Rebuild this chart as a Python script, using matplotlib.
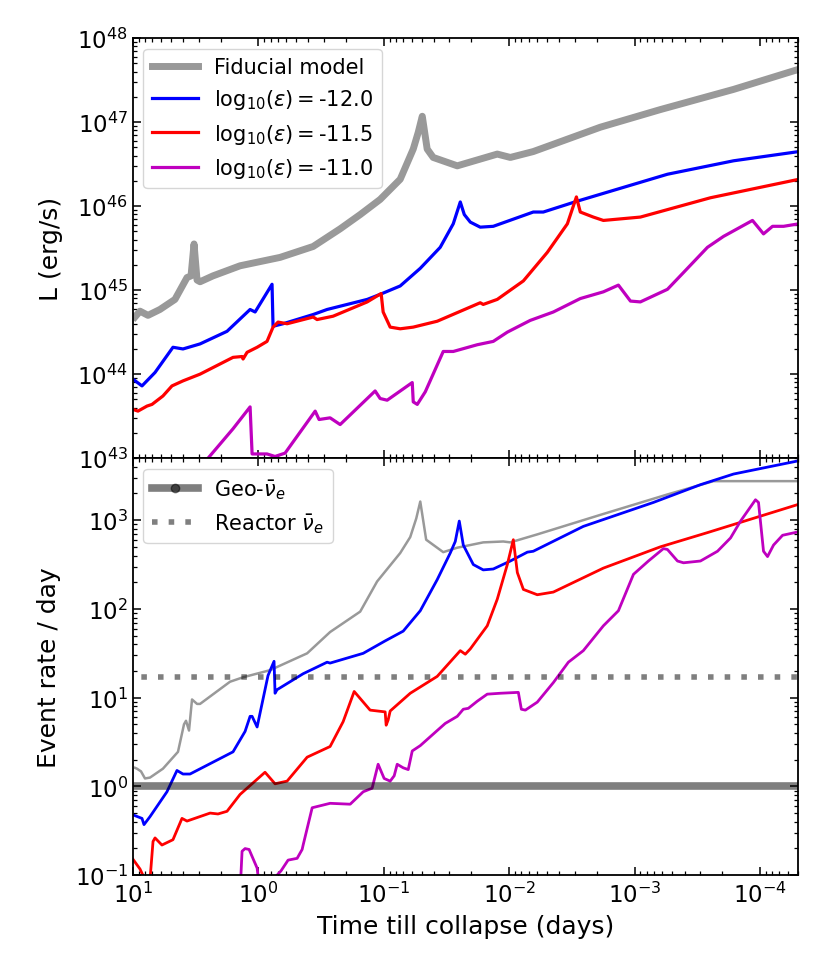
import numpy as np
import matplotlib
matplotlib.use('Agg')
import matplotlib.pyplot as plt

# log10(days till collapse) / log10(L [erg/s])
fid_lt = [0.984, 0.944, 0.880, 0.785, 0.665, 0.569, 0.537, 0.513, 0.489, 0.465,
          0.362, 0.146, -0.173, -0.437, -0.652, -0.812, -0.971, -1.131, -1.235, -1.275,
          -1.307, -1.346, -1.394, -1.586, -1.905, -2.009, -2.192, -2.727, -3.206, -3.789, -4.31]
fid_lL = [44.68, 44.75, 44.70, 44.77, 44.89, 45.15, 45.17, 45.55, 45.12, 45.10,
          45.17, 45.29, 45.39, 45.52, 45.73, 45.90, 46.08, 46.32, 46.68, 46.88,
          47.07, 46.68, 46.58, 46.48, 46.62, 46.58, 46.65, 46.94, 47.15, 47.39, 47.63]

e120_lt = [1.0, 0.928, 0.824, 0.681, 0.601, 0.465, 0.250, 0.066, 0.026, -0.109,
           -0.117, -0.197, -0.437, -0.548, -0.868, -0.971, -1.131, -1.291, -1.450, -1.554, -1.610,
           -1.642, -1.690, -1.769, -1.873, -2.192, -2.272, -2.544, -3.262, -3.789, -4.31]
e120_lL = [43.94, 43.86, 44.02, 44.32, 44.30, 44.36, 44.51, 44.77, 44.74, 45.07,
           44.57, 44.60, 44.71, 44.77, 44.89, 44.95, 45.05, 45.26, 45.51, 45.79, 46.05,
           45.90, 45.81, 45.75, 45.76, 45.93, 45.93, 46.06, 46.38, 46.54, 46.65]

e115_lt = [1.0, 0.960, 0.888, 0.848, 0.761, 0.689, 0.601, 0.465, 0.202, 0.130,
           0.122, 0.090, 0.010, -0.069, -0.117, -0.157, -0.229, -0.437, -0.468, -0.596,
           -0.868, -0.979, -0.995, -1.051, -1.131, -1.235, -1.426, -1.769, -1.793, -1.905,
           -2.113, -2.304, -2.464, -2.536, -2.567, -2.671, -2.751, -3.046, -3.605, -4.31]
e115_lL = [43.58, 43.56, 43.62, 43.64, 43.74, 43.86, 43.92, 44.00, 44.20, 44.21,
           44.18, 44.26, 44.32, 44.39, 44.56, 44.62, 44.60, 44.68, 44.65, 44.69,
           44.86, 44.96, 44.74, 44.56, 44.54, 44.56, 44.63, 44.85, 44.83, 44.89,
           45.11, 45.45, 45.79, 46.11, 45.93, 45.87, 45.83, 45.87, 46.10, 46.32]

e110_lt = [0.481, 0.401, 0.202, 0.066, 0.050, 0.010, -0.069, -0.133, -0.213, -0.453,
           -0.484, -0.572, -0.652, -0.931, -0.971, -1.027, -1.227, -1.235, -1.267, -1.331,
           -1.474, -1.554, -1.745, -1.873, -1.985, -2.168, -2.352, -2.567, -2.751, -2.871,
           -2.967, -3.046, -3.262, -3.390, -3.581, -3.709, -3.940, -4.028, -4.100, -4.188, -4.31]
e110_lL = [42.87, 43.00, 43.35, 43.61, 43.05, 43.05, 43.05, 43.02, 43.06, 43.56,
           43.46, 43.48, 43.40, 43.80, 43.71, 43.69, 43.90, 43.67, 43.64, 43.79,
           44.27, 44.27, 44.35, 44.39, 44.50, 44.64, 44.74, 44.90, 44.98, 45.06,
           44.87, 44.86, 45.01, 45.21, 45.51, 45.64, 45.83, 45.67, 45.76, 45.76, 45.79]

# log10(event rate per day), lower panel
fidR_lt = [0.984, 0.968, 0.936, 0.904, 0.864, 0.761, 0.641, 0.593, 0.577, 0.553,
           0.529, 0.489, 0.465, 0.226, 0.122, -0.093, -0.389, -0.572, -0.812, -0.947,
           -1.131, -1.211, -1.259, -1.291, -1.338, -1.474, -1.586, -1.793, -1.953, -2.009,
           -2.224, -2.727, -3.262, -3.629, -4.31]
fidR_lR = [0.21, 0.20, 0.17, 0.09, 0.10, 0.20, 0.39, 0.70, 0.74, 0.63,
           0.98, 0.93, 0.93, 1.18, 1.23, 1.31, 1.50, 1.74, 1.97, 2.31,
           2.63, 2.81, 3.02, 3.21, 2.78, 2.64, 2.69, 2.75, 2.76, 2.75,
           2.84, 3.06, 3.29, 3.44, 3.44]

e120R_lt = [1.0, 0.928, 0.912, 0.864, 0.729, 0.649, 0.601, 0.545, 0.202, 0.106,
            0.066, 0.050, 0.010, -0.077, -0.125, -0.133, -0.149, -0.357, -0.548, -0.572,
            -0.836, -1.011, -1.155, -1.291, -1.426, -1.530, -1.570, -1.602, -1.634, -1.674,
            -1.714, -1.793, -1.873, -2.009, -2.145, -2.192, -2.591, -3.150, -3.525, -3.789, -4.31]
e120R_lR = [-0.32, -0.36, -0.43, -0.34, -0.06, 0.18, 0.14, 0.14, 0.39, 0.62,
            0.79, 0.79, 0.67, 1.25, 1.41, 1.05, 1.09, 1.27, 1.40, 1.39,
            1.50, 1.64, 1.75, 1.98, 2.33, 2.63, 2.76, 2.99, 2.72, 2.61,
            2.50, 2.44, 2.45, 2.54, 2.64, 2.65, 2.93, 3.20, 3.40, 3.52, 3.67]

e115R_lt = [1.0, 0.944, 0.904, 0.880, 0.864, 0.840, 0.824, 0.769, 0.681, 0.609,
            0.569, 0.385, 0.322, 0.250, 0.146, -0.053, -0.133, -0.229, -0.389, -0.572,
            -0.676, -0.764, -0.891, -1.011, -1.019, -1.035, -1.051, -1.211, -1.426, -1.610,
            -1.650, -1.690, -1.825, -1.905, -1.985, -2.033, -2.065, -2.113, -2.224, -2.352,
            -2.751, -3.206, -3.581, -4.31]
e115R_lR = [-0.82, -0.93, -1.05, -1.3, -1.05, -0.62, -0.58, -0.66, -0.60, -0.36,
            -0.39, -0.30, -0.31, -0.28, -0.09, 0.16, 0.03, 0.06, 0.33, 0.45,
            0.73, 1.07, 0.86, 0.84, 0.69, 0.75, 0.85, 1.05, 1.24, 1.53,
            1.49, 1.55, 1.81, 2.11, 2.50, 2.78, 2.41, 2.22, 2.16, 2.19,
            2.46, 2.70, 2.86, 3.18]

e110R_lt = [0.146, 0.130, 0.106, 0.074, 0.010, -0.014, -0.077, -0.149, -0.181, -0.237,
            -0.309, -0.349, -0.357, -0.429, -0.572, -0.732, -0.836, -0.907, -0.955, -1.003,
            -1.051, -1.083, -1.107, -1.155, -1.195, -1.227, -1.291, -1.426, -1.490, -1.586,
            -1.634, -1.674, -1.745, -1.825, -1.929, -2.073, -2.097, -2.129, -2.224, -2.352,
            -2.472, -2.591, -2.751, -2.871, -2.991, -3.110, -3.230, -3.262, -3.342, -3.390,
            -3.525, -3.661, -3.765, -3.845, -3.964, -3.988, -4.028, -4.060, -4.108, -4.180, -4.31]
e110R_lR = [-1.2, -0.73, -0.70, -0.71, -0.92, -1.2, -1.4, -1.0, -0.95, -0.83,
            -0.81, -0.71, -0.66, -0.24, -0.19, -0.20, -0.06, -0.02, 0.25, 0.09,
            0.06, 0.12, 0.25, 0.21, 0.19, 0.40, 0.46, 0.63, 0.71, 0.79,
            0.87, 0.88, 0.96, 1.04, 1.05, 1.06, 0.87, 0.86, 0.95, 1.17,
            1.40, 1.53, 1.81, 1.98, 2.39, 2.54, 2.68, 2.67, 2.54, 2.52,
            2.54, 2.65, 2.80, 2.99, 3.23, 3.20, 2.65, 2.59, 2.72, 2.83, 2.87]

geo_rate = 1.0
reactor_rate = 17.0
bkg_t = [1e2, 1e-6]   # wider than the axis so the markers sit off-plot

labels = ['Fiducial model', r'$\mathrm{log}_{10}(\varepsilon) = $-12.0',
          r'$\mathrm{log}_{10}(\varepsilon) = $-11.5', r'$\mathrm{log}_{10}(\varepsilon) = $-11.0']

fig = plt.figure(figsize=(8.31, 9.79), dpi=100)
ax1 = fig.add_axes([0.160, 0.531, 0.800, 0.429])
ax2 = fig.add_axes([0.160, 0.105, 0.800, 0.426], sharex=ax1)

def p(a):
    return 10 ** np.array(a)

ax1.plot(p(fid_lt), p(fid_lL), color='#999999', lw=5, label=labels[0])
ax1.plot(p(e120_lt), p(e120_lL), color='b', lw=2.3, label=labels[1])
ax1.plot(p(e115_lt), p(e115_lL), color='r', lw=2.3, label=labels[2])
ax1.plot(p(e110_lt), p(e110_lL), color='m', lw=2.3, label=labels[3])

ax2.plot(p(fidR_lt), p(fidR_lR), color='#999999', lw=1.8)
ax2.plot(p(e120R_lt), p(e120R_lR), color='b', lw=2.0)
ax2.plot(p(e115R_lt), p(e115R_lR), color='r', lw=2.0)
ax2.plot(p(e110R_lt), p(e110R_lR), color='m', lw=2.0)
ax2.plot(bkg_t, [geo_rate, geo_rate], color='k', alpha=0.5, lw=5.5,
         marker='o', ms=6, label=r'Geo-$\bar{\nu}_e$')
ax2.plot(bkg_t, [reactor_rate, reactor_rate], color='k', alpha=0.5, lw=4,
         ls=(0, (1, 2)), label=r'Reactor $\bar{\nu}_e$')

for ax in (ax1, ax2):
    ax.set_xscale('log')
    ax.set_yscale('log')
    ax.tick_params(which='both', direction='in', top=True, right=True,
                   labelsize=16.5)
    ax.tick_params(which='major', length=6, width=1.1)
    ax.tick_params(which='minor', length=3, width=0.9)
    for s in ax.spines.values():
        s.set_linewidth(1.3)

ax1.set_xlim(10, 5e-5)
ax1.set_ylim(1e43, 1e48)
ax2.set_ylim(1e-1, 5e3)
ax1.tick_params(labelbottom=False)
ax2.tick_params(axis='x', pad=5)
ax1.set_ylabel('L (erg/s)', fontsize=18, labelpad=10)
ax2.set_ylabel('Event rate / day', fontsize=18, labelpad=10)
ax2.set_xlabel('Time till collapse (days)', fontsize=18, labelpad=5)

ax1.legend(loc='upper left', fontsize=15, handlelength=2.2)
ax2.legend(loc='upper left', fontsize=15, handlelength=2.2, numpoints=1)

fig.savefig('out.png', dpi=100)
